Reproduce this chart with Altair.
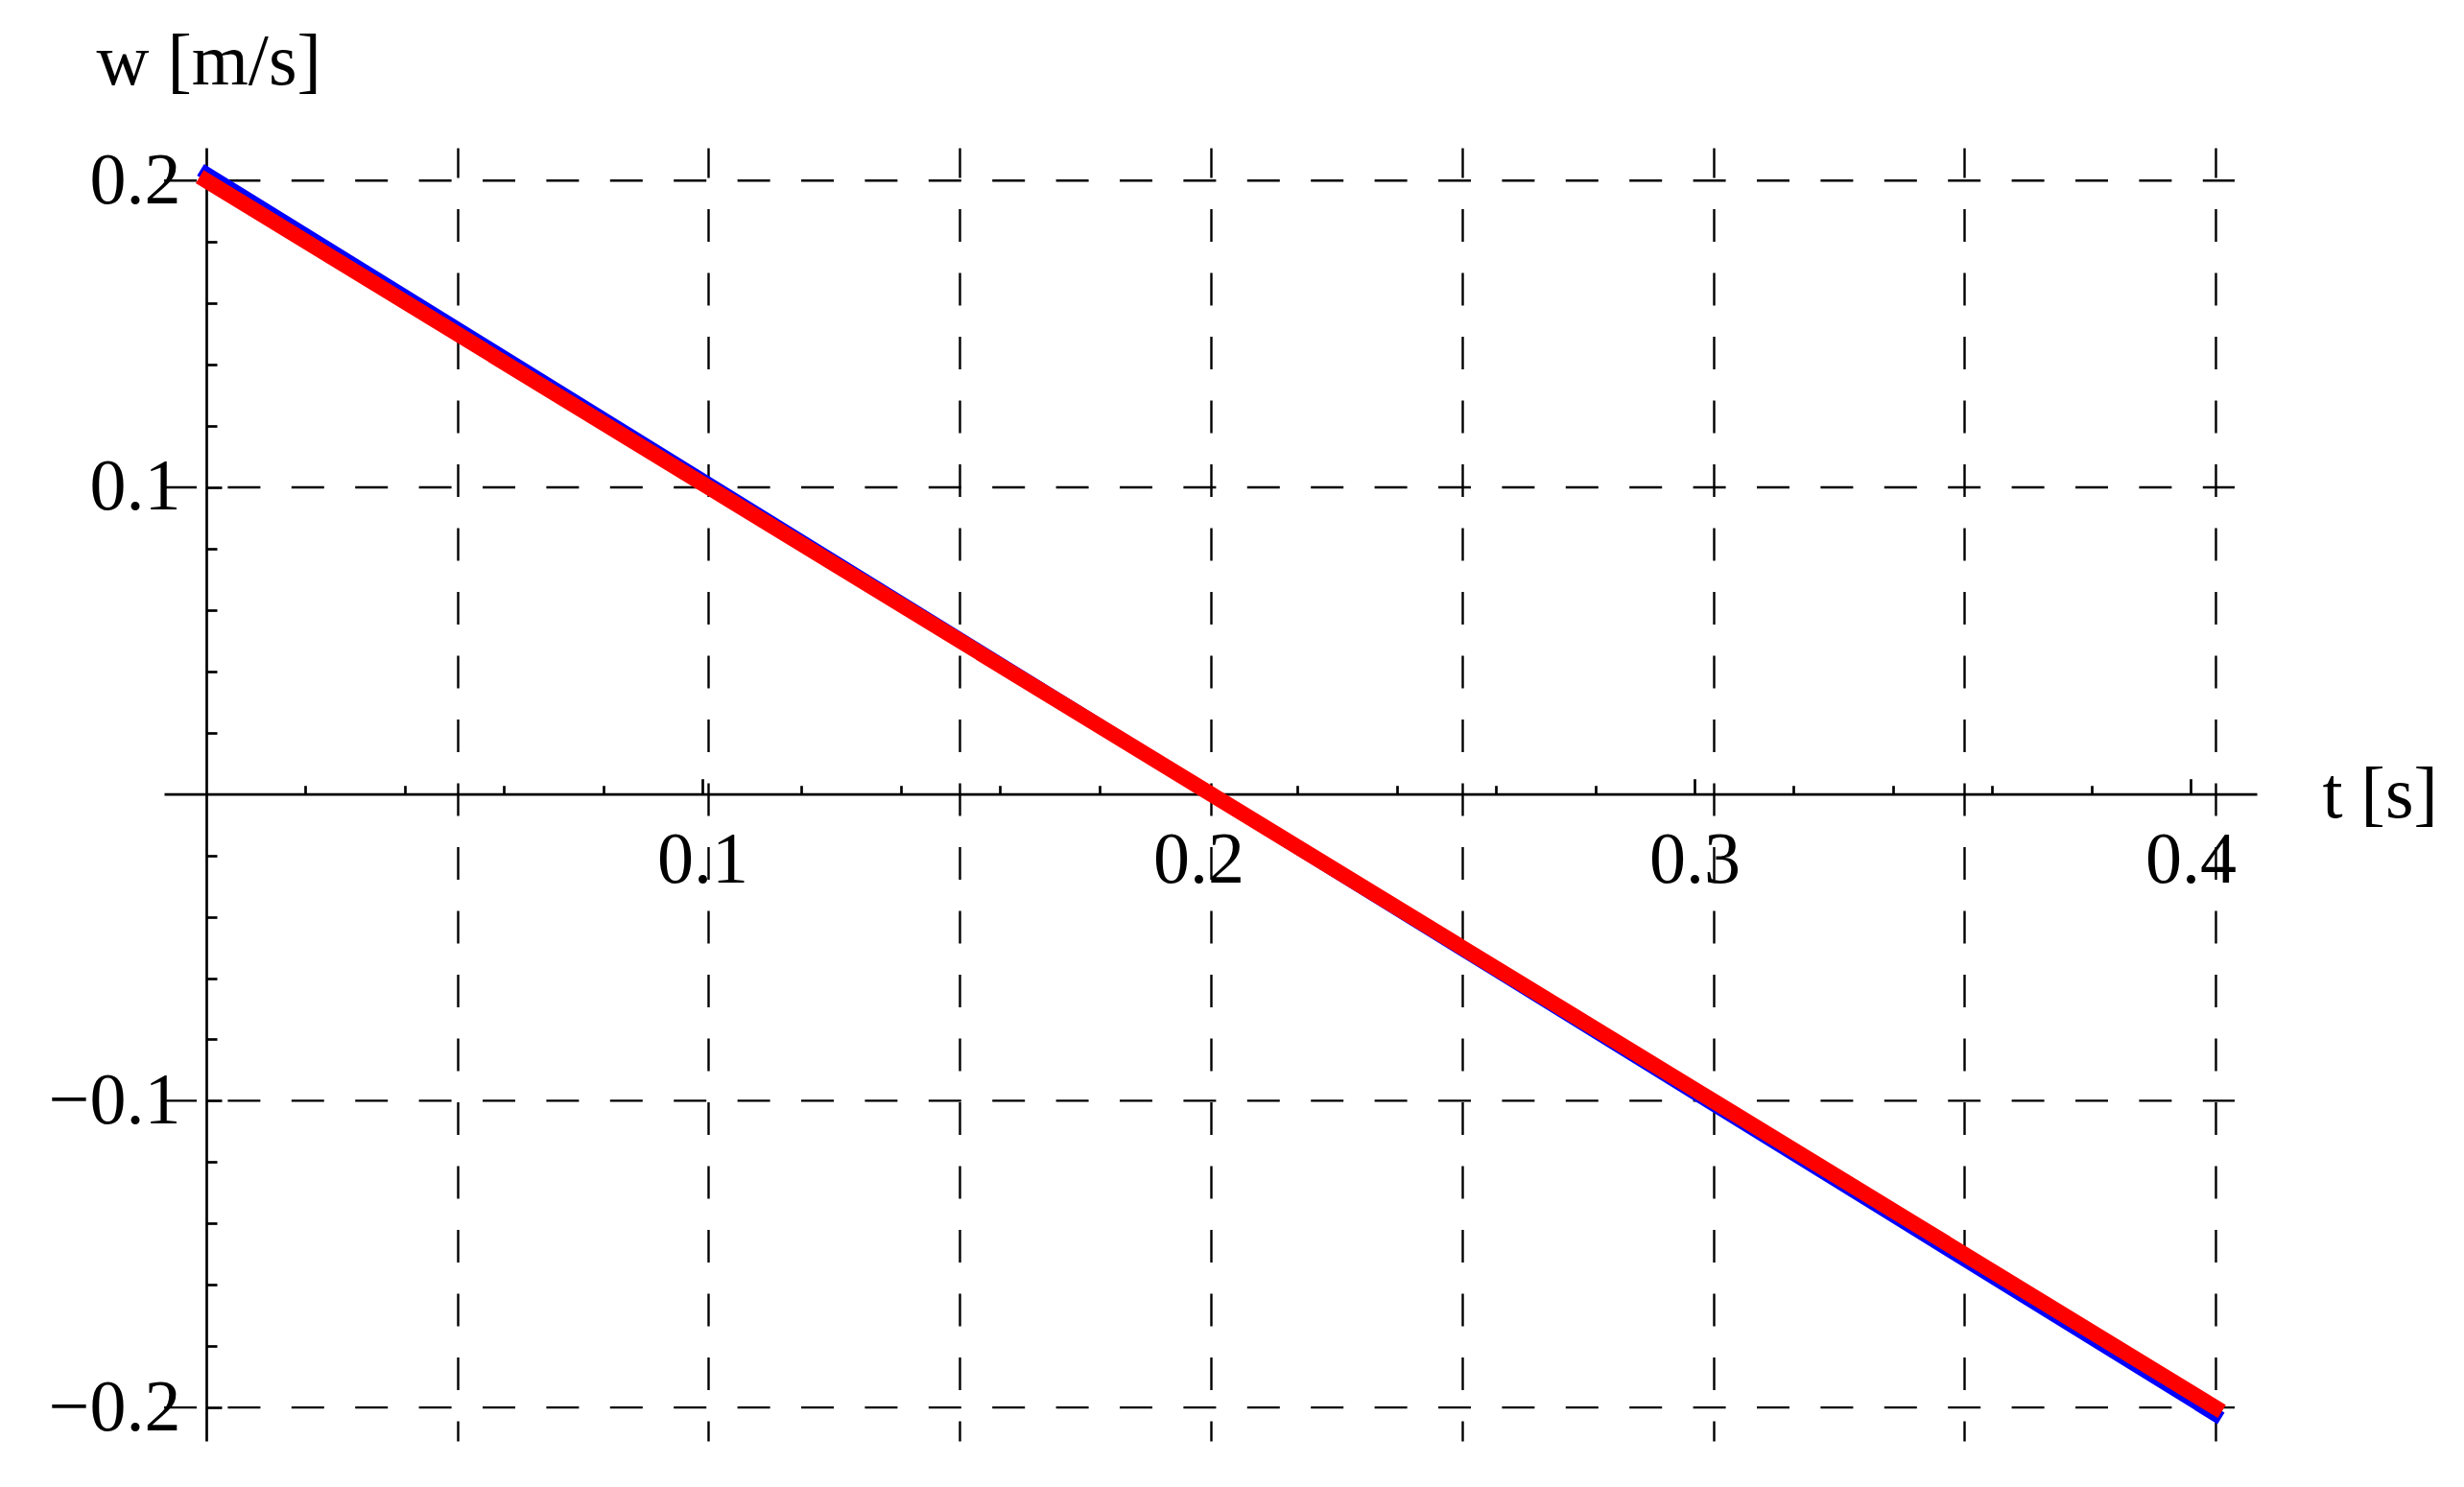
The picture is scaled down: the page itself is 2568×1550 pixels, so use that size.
import altair as alt
import pandas as pd

# ---- data ----
t_values = [0.0, 0.10125, 0.2025, 0.30375, 0.405]
w_red = [0.2, 0.1, 0.0, -0.1, -0.2]
w_blue = [0.2024, 0.1012, 0.0, -0.1012, -0.2024]

x_grid = [0.0506, 0.1012, 0.1519, 0.2025, 0.2531, 0.3038, 0.3544, 0.405]
y_grid = [0.2, 0.1, -0.1, -0.2]

x_major = [0.1, 0.2, 0.3, 0.4]
x_labels = ["0.1", "0.2", "0.3", "0.4"]
x_minor = [0.02, 0.04, 0.06, 0.08, 0.12, 0.14, 0.16, 0.18,
           0.22, 0.24, 0.26, 0.28, 0.32, 0.34, 0.36, 0.38]

y_major = [0.2, 0.1, -0.1, -0.2]
y_labels = ["0.2", "0.1", "\u22120.1", "\u22120.2"]
y_minor = [0.18, 0.16, 0.14, 0.12, 0.08, 0.06, 0.04, 0.02,
           -0.02, -0.04, -0.06, -0.08, -0.12, -0.14, -0.16, -0.18]

x_title = "t [s]"
y_title = "w [m/s]"

# ---- layout ----
X_DOMAIN = [-0.00851, 0.41335]
Y_DOMAIN = [-0.21092, 0.21073]
W, H = 2181, 1348
ZERO_X = W * (0 - X_DOMAIN[0]) / (X_DOMAIN[1] - X_DOMAIN[0])
ZERO_Y = H * Y_DOMAIN[1] / (Y_DOMAIN[1] - Y_DOMAIN[0])
HGRID_END = 2158  # pixel length of the horizontal grid lines

FONT = "Liberation Serif"
FS = 76
LW = 2.7


def label_expr(vals, labs):
    parts = [f"abs(datum.value - ({v})) < 1e-6 ? '{l}'" for v, l in zip(vals, labs)]
    return " : ".join(parts) + " : ''"


red_df = pd.DataFrame({"t": t_values, "w": w_red})
blue_df = pd.DataFrame({"t": t_values, "w": w_blue})
hgrid_df = pd.DataFrame({"w": y_grid})

xs = alt.Scale(domain=X_DOMAIN, nice=False, zero=False)
ys = alt.Scale(domain=Y_DOMAIN, nice=False, zero=False)

# vertical grid lines
grid_x = alt.Axis(orient="top", values=x_grid, grid=True, gridDash=[34, 32.5], gridDashOffset=13,
                  gridColor="black", gridWidth=2.4, gridOpacity=1, labels=False, ticks=False,
                  domain=False, title=None)

# major ticks + axis lines
maj_x = alt.Axis(orient="top", offset=-ZERO_Y, values=x_major, ticks=True, tickSize=16,
                 tickWidth=LW, tickColor="black", domain=True, domainColor="black",
                 domainWidth=LW, labels=False, grid=False, title=None)
maj_y = alt.Axis(orient="right", offset=ZERO_X - W, values=y_major, ticks=True, tickSize=16,
                 tickWidth=LW, tickColor="black", domain=True, domainColor="black",
                 domainWidth=LW, labels=False, grid=False, title=None)

# minor ticks
min_x = alt.Axis(orient="top", offset=-ZERO_Y, values=x_minor, ticks=True, tickSize=9,
                 tickWidth=LW, tickColor="black", domain=False, labels=False, grid=False,
                 title=None)
min_y = alt.Axis(orient="right", offset=ZERO_X - W, values=y_minor, ticks=True, tickSize=11,
                 tickWidth=LW, tickColor="black", domain=False, labels=False, grid=False,
                 title=None)

# labels and titles
lab_x = alt.Axis(orient="bottom", offset=ZERO_Y - H, values=x_major,
                 labelExpr=label_expr(x_major, x_labels), ticks=False, domain=False, grid=False,
                 labelFont=FONT, labelFontSize=FS, labelColor="black", labelBaseline="top",
                 labelPadding=32, labelAlign="center", labelFlush=False, labelOverlap=False,
                 title=x_title, titleFont=FONT, titleFontSize=FS, titleFontWeight="normal",
                 titleColor="black", titleAngle=0, titleAlign="left", titleBaseline="alphabetic",
                 titleX=2249, titleY=24)
lab_y = alt.Axis(orient="left", offset=-ZERO_X, values=y_major,
                 labelExpr=label_expr(y_major, y_labels), ticks=False, domain=False, grid=False,
                 labelFont=FONT, labelFontSize=FS, labelColor="black", labelBaseline="middle",
                 labelPadding=27, labelAlign="right", labelFlush=False, labelOverlap=False,
                 title=y_title, titleFont=FONT, titleFontSize=FS, titleFontWeight="normal",
                 titleColor="black", titleAngle=0, titleAlign="left", titleBaseline="alphabetic",
                 titleX=-115, titleY=-67)

hgrid = alt.Chart(hgrid_df).mark_rule(color="black", strokeWidth=2.4, strokeDash=[34, 32.4]).encode(
    y=alt.Y("w:Q", scale=ys, axis=None),
    x=alt.value(0),
    x2=alt.value(HGRID_END),
)
blue = alt.Chart(blue_df).mark_line(color="#0000ff", strokeWidth=14, strokeCap="square").encode(
    x=alt.X("t:Q", scale=xs, axis=grid_x),
    y=alt.Y("w:Q", scale=ys, axis=None),
)
red = alt.Chart(red_df).mark_line(color="#ff0000", strokeWidth=16, strokeCap="square").encode(
    x=alt.X("t:Q", scale=xs, axis=maj_x),
    y=alt.Y("w:Q", scale=ys, axis=maj_y),
)
minor = alt.Chart(red_df).mark_line(strokeOpacity=0).encode(
    x=alt.X("t:Q", scale=xs, axis=min_x),
    y=alt.Y("w:Q", scale=ys, axis=min_y),
)
labels = alt.Chart(red_df).mark_line(strokeOpacity=0).encode(
    x=alt.X("t:Q", scale=xs, axis=lab_x),
    y=alt.Y("w:Q", scale=ys, axis=lab_y),
)

chart = (
    alt.layer(hgrid, blue, red, minor, labels)
    .resolve_axis(x="independent", y="independent")
    .properties(
        width=W,
        height=H,
        autosize=alt.AutoSizeParams(type="none"),
        padding={"left": 163, "top": 146, "right": 200, "bottom": 40},
        background="white",
    )
    .configure_view(stroke=None)
)

chart.save("out.html", embed_options={"renderer": "svg", "actions": False})
